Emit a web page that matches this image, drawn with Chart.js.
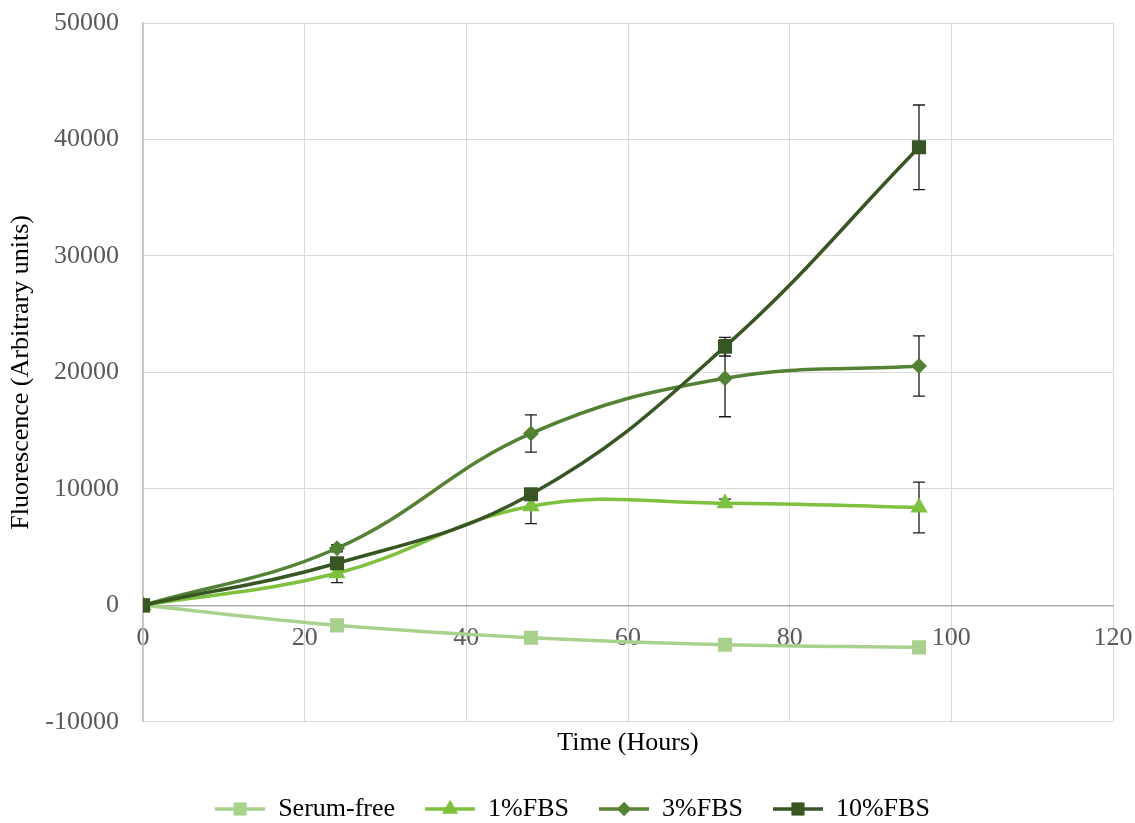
<!DOCTYPE html>
<html>
<head>
<meta charset="utf-8">
<script src="https://cdn.jsdelivr.net/npm/chart.js@4.4.0/dist/chart.umd.min.js"></script>
<style>
  html, body { margin: 0; padding: 0; background: #fff; }
</style>
</head>
<body>
<canvas id="chart" width="1135" height="823"></canvas>
<script>
// time points (hours)
const hours = [0, 24, 48, 72, 96];

// mean fluorescence per group
const serumFree = [0, -1720, -2780, -3380, -3610];
const fbs1 = [0, 2750, 8510, 8770, 8400];
const fbs3 = [0, 4900, 14760, 19490, 20550];
const fbs10 = [0, 3610, 9540, 22210, 39330];

// error bar half heights
const errSerumFree = [0, 0, 0, 0, 0];
const errFbs1 = [0, 800, 1500, 350, 2180];
const errFbs3 = [0, 300, 1600, 3300, 2580];
const errFbs10 = [0, 300, 400, 800, 3630];

const labels = ["Serum-free", "1%FBS", "3%FBS", "10%FBS"];
const colors = ["#A9D18E", "#7DC13E", "#548235", "#375623"];
const markers = ["rect", "triangle", "rectRot", "rect"];
const markerSizes = [10, 10, 8, 10];

const seriesList = [serumFree, fbs1, fbs3, fbs10];
const errList = [errSerumFree, errFbs1, errFbs3, errFbs10];

const FONT = "'Liberation Serif', 'Times New Roman', serif";

function toPoints(vals) {
    return hours.map((h, i) => ({ x: h, y: vals[i] }));
}

// small canvas with line + marker for the legend
function legendIcon(i) {
    const c = document.createElement("canvas");
    c.width = 50;
    c.height = 22;
    const ctx = c.getContext("2d");
    ctx.strokeStyle = colors[i];
    ctx.lineWidth = 3.5;
    ctx.beginPath();
    ctx.moveTo(0, 11);
    ctx.lineTo(50, 11);
    ctx.stroke();
    ctx.fillStyle = colors[i];
    Chart.helpers.drawPoint(ctx, { pointStyle: markers[i], radius: markerSizes[i] - 1, rotation: 0, borderWidth: 0 }, 25, 11);
    ctx.fill();
    return c;
}

const errorBars = {
    id: "errorBars",
    beforeDatasetsDraw(chart) {
        const ctx = chart.ctx;
        const x = chart.scales.x;
        const y = chart.scales.y;
        ctx.save();
        ctx.strokeStyle = "#1a1a1a";
        ctx.lineWidth = 1.3;
        errList.forEach((errs, d) => {
            errs.forEach((e, i) => {
                if (!e) return;
                const px = x.getPixelForValue(hours[i]);
                const top = y.getPixelForValue(seriesList[d][i] + e);
                const bot = y.getPixelForValue(seriesList[d][i] - e);
                ctx.beginPath();
                ctx.moveTo(px, top);
                ctx.lineTo(px, bot);
                ctx.moveTo(px - 6, top);
                ctx.lineTo(px + 6, top);
                ctx.moveTo(px - 6, bot);
                ctx.lineTo(px + 6, bot);
                ctx.stroke();
            });
        });
        ctx.restore();
    }
};

// nudge the legend a little to the right, like the original
const legendShift = {
    id: "legendShift",
    afterLayout(chart) {
        chart.legend.left += 16;
        chart.legend.right += 16;
    }
};

const datasets = seriesList.map((vals, i) => ({
    label: labels[i],
    data: toPoints(vals),
    borderColor: colors[i],
    backgroundColor: colors[i],
    borderWidth: 3.5,
    pointStyle: markers[i],
    pointRadius: markerSizes[i],
    pointHoverRadius: markerSizes[i],
    pointBorderWidth: 0,
    tension: 0.4,
    order: 4 - i
}));

new Chart(document.getElementById("chart"), {
    type: "line",
    data: { datasets: datasets },
    plugins: [errorBars, legendShift],
    options: {
        responsive: false,
        animation: false,
        layout: { padding: { left: 0, right: 22, top: 23, bottom: -9 } },
        scales: {
            x: {
                type: "linear",
                position: { y: 0 },
                min: 0,
                max: 120,
                ticks: {
                    stepSize: 20,
                    color: "#595959",
                    font: { family: FONT, size: 26 },
                    padding: 17,
                    maxRotation: 0,
                    callback: (v) => String(v)
                },
                grid: { color: "#d9d9d9", lineWidth: 1, drawTicks: false },
                border: { color: "#ababab", width: 1.5 },
                afterFit(scale) { scale.paddingRight = 0; scale.paddingLeft = 0; }
            },
            xTitle: {
                type: "linear",
                axis: "x",
                position: "bottom",
                min: 0,
                max: 120,
                ticks: { display: false },
                grid: { display: false, drawTicks: false },
                border: { display: false },
                title: {
                    display: true,
                    text: "Time (Hours)",
                    color: "#000",
                    font: { family: FONT, size: 26 },
                    padding: { top: 6, bottom: 7 }
                }
            },
            y: {
                min: -10000,
                max: 50000,
                ticks: {
                    stepSize: 10000,
                    color: "#595959",
                    font: { family: FONT, size: 26 },
                    padding: 24,
                    callback: (v) => String(v)
                },
                grid: { color: "#d9d9d9", lineWidth: 1, drawTicks: false },
                border: { color: "#bfbfbf", width: 1.5 },
                title: {
                    display: true,
                    text: "Fluorescence (Arbitrary units)",
                    color: "#000",
                    font: { family: FONT, size: 26 },
                    padding: { top: 6, bottom: 4 }
                },
                afterFit(scale) {
                    scale.width = 143;
                    scale.paddingTop = 0;
                    scale.paddingBottom = 0;
                }
            }
        },
        plugins: {
            legend: {
                position: "bottom",
                labels: {
                    color: "#000",
                    font: { family: FONT, size: 26 },
                    usePointStyle: true,
                    pointStyleWidth: 50,
                    padding: 30,
                    generateLabels() {
                        return labels.map((l, i) => ({
                            text: l,
                            pointStyle: legendIcon(i),
                            fillStyle: colors[i],
                            strokeStyle: colors[i],
                            lineWidth: 0,
                            hidden: false,
                            datasetIndex: i
                        }));
                    }
                }
            },
            tooltip: { enabled: false }
        }
    }
});
</script>
</body>
</html>
